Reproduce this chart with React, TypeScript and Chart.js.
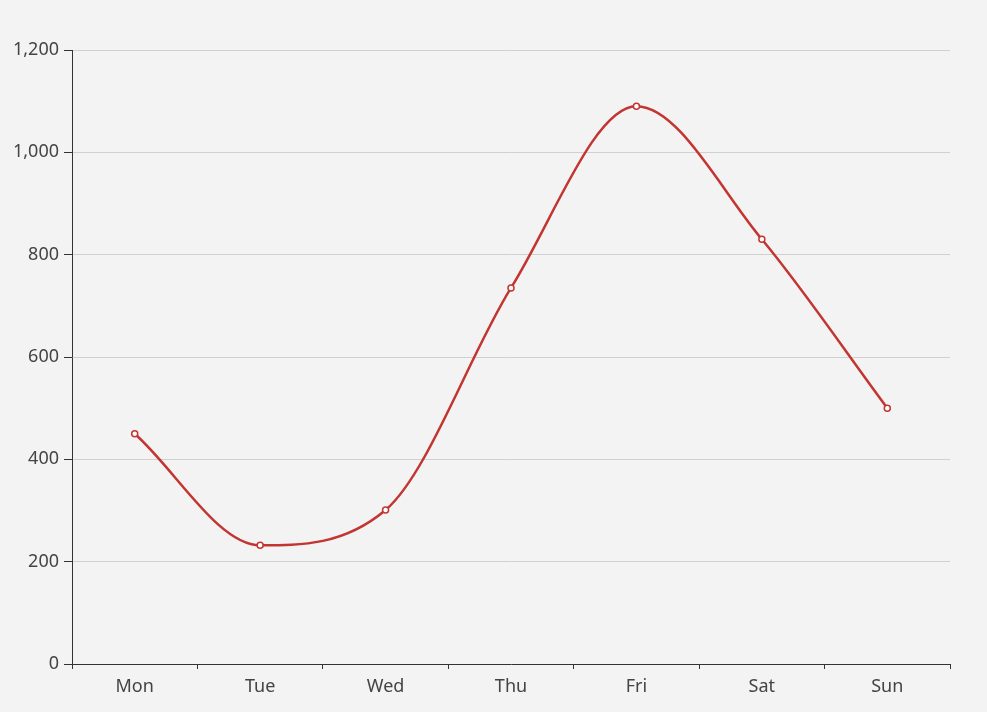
import React, { useEffect, useRef } from "react";
import { Chart, registerables } from "chart.js";

Chart.register(...registerables);

const days = ["Mon", "Tue", "Wed", "Thu", "Fri", "Sat", "Sun"];
const values = [450, 232, 301, 735, 1090, 830, 500];
const yTicks = [0, 200, 400, 600, 800, 1000, 1200];

export default function App() {
  const ref = useRef<HTMLCanvasElement | null>(null);
  useEffect(() => {
    if (!ref.current) return;
    const chart = new Chart(ref.current, {
      type: "line",
      data: {
        labels: days,
        datasets: [
          {
            data: values,
            borderColor: "#c23531",
            borderWidth: 2.5,
            cubicInterpolationMode: "monotone",
            pointRadius: 3,
            pointBorderWidth: 1.5,
            pointBackgroundColor: "#ffffff",
            pointBorderColor: "#c23531",
            fill: false,
          },
        ],
      },
      options: {
        animation: false,
        responsive: false,
        maintainAspectRatio: false,
        layout: { padding: { top: 50, right: 37, left: 0, bottom: 0 } },
        plugins: { legend: { display: false }, tooltip: { enabled: false } },
        scales: {
          x: {
            offset: true,
            grid: {
              offset: true,
              drawOnChartArea: false,
              drawTicks: true,
              tickLength: 5,
              tickColor: "#333333",
              tickWidth: 1,
            },
            border: { color: "#333333", width: 1 },
            ticks: {
              color: "#444444",
              font: { family: "Noto Sans", size: 18 },
              padding: 7,
            },
            afterFit: (s: any) => {
              s.height = 48;
            },
          },
          y: {
            min: 0,
            max: 1200,
            afterBuildTicks: (s: any) => {
              s.ticks = yTicks.map((v) => ({ value: v }));
            },
            grid: {
              color: "#d0d0d0",
              lineWidth: 1,
              drawTicks: true,
              tickLength: 8,
              tickColor: "#333333",
              tickWidth: 1,
            },
            border: { color: "#333333", width: 1 },
            ticks: {
              color: "#444444",
              font: { family: "Noto Sans", size: 18 },
              padding: 5,
              callback: (v: any) => Number(v).toLocaleString("en-US"),
            },
            afterFit: (s: any) => {
              s.width = 72;
            },
          },
        },
      },
    });
    return () => chart.destroy();
  }, []);
  return (
    <div
      style={{
        position: "fixed",
        left: 0,
        top: 0,
        width: 987,
        height: 712,
        background: "#f3f3f3",
      }}
    >
      <canvas ref={ref} width={987} height={712} style={{ display: "block" }} />
    </div>
  );
}
